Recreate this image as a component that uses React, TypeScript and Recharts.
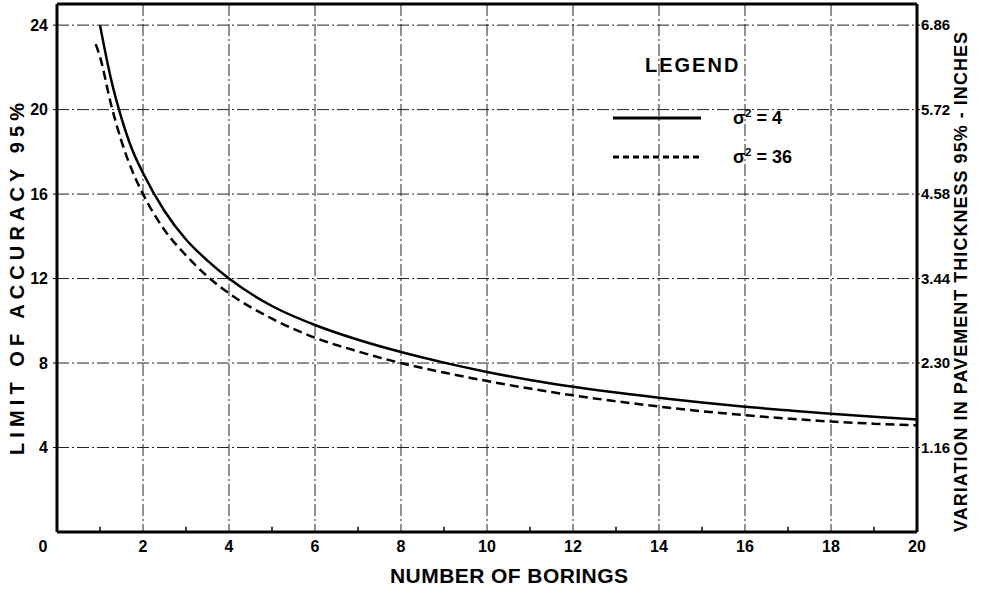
import React from "react";
import {
  LineChart,
  Line,
  XAxis,
  YAxis,
  CartesianGrid,
  ReferenceLine,
  Legend,
} from "recharts";

const FONT = '"Liberation Sans", Arial, sans-serif';

// number of borings (x) and the two curves
const borings = [0.9, 1, 1.25, 1.5, 1.75, 2, 2.5, 3, 3.5, 4, 5, 6, 7, 8, 9, 10, 11, 12, 13, 14, 15, 16, 17, 18, 19, 20];
const sigma4 = [null, 24.0, 21.5, 19.6, 18.1, 17.0, 15.2, 13.85, 12.85, 12.0, 10.7, 9.8, 9.1, 8.52, 8.02, 7.58, 7.2, 6.88, 6.6, 6.36, 6.13, 5.93, 5.76, 5.6, 5.46, 5.33];
const sigma36 = [23.1, 22.5, 20.3, 18.5, 17.1, 16.0, 14.3, 13.1, 12.1, 11.3, 10.1, 9.2, 8.55, 8.0, 7.55, 7.15, 6.79, 6.47, 6.19, 5.94, 5.72, 5.53, 5.37, 5.23, 5.13, 5.05];

const xTicks = [0, 2, 4, 6, 8, 10, 12, 14, 16, 18, 20];
const minorXTicks = [1, 3, 5, 7, 9, 11, 13, 15, 17, 19];
const leftTicks = [4, 8, 12, 16, 20, 24];
const rightTickLabels = ["1.16", "2.30", "3.44", "4.58", "5.72", "6.86"];
const legendLabels = ["4", "36"];

const data = borings.map((b, i) => ({ borings: b, s4: sigma4[i], s36: sigma36[i] }));

const XTick = ({ x, y, payload }: any) => (
  <text
    x={x}
    y={y}
    dx={payload.value === 0 ? -14 : 0}
    dy={20}
    textAnchor="middle"
    fontFamily={FONT}
    fontWeight={700}
    fontSize={16}
    fill="#000"
  >
    {payload.value}
  </text>
);

const LegendBox = ({ payload }: any) => {
  const items = (payload || []).filter((p: any) => p.type !== "none").slice(0, legendLabels.length);
  return (
    <div style={{ fontFamily: FONT, fontWeight: 700, color: "#000" }}>
      <div style={{ fontSize: 20, lineHeight: "30px", letterSpacing: 2, marginLeft: 32 }}>LEGEND</div>
      <div style={{ marginTop: 18 }}>
        {items.map((p: any, i: number) => (
          <div key={i} style={{ display: "flex", alignItems: "center", height: 39 }}>
            <svg width={88} height={6}>
              <line
                x1={0}
                y1={3}
                x2={88}
                y2={3}
                stroke="#000"
                strokeWidth={3}
                strokeDasharray={i === 1 ? "6 4" : undefined}
              />
            </svg>
            <span style={{ marginLeft: 32, fontSize: 18 }}>
              σ<sup style={{ fontSize: 11 }}>2</sup> = {legendLabels[i]}
            </span>
          </div>
        ))}
      </div>
    </div>
  );
};

const titleStyle = { fontFamily: FONT, fontWeight: 700, fill: "#000" };

export default function App() {
  return (
    <div style={{ position: "absolute", left: 0, top: 0, width: 984, height: 592, background: "#fff" }}>
      <LineChart width={984} height={592} data={data} margin={{ top: 4, right: 0, bottom: 0, left: 0 }}>
        <CartesianGrid yAxisId="left" stroke="#222" strokeWidth={1} strokeDasharray="12 3 2 3" />
        <XAxis
          type="number"
          dataKey="borings"
          domain={[0, 20]}
          ticks={xTicks}
          allowDataOverflow
          height={60}
          tickLine={false}
          tickSize={0}
          tickMargin={0}
          axisLine={{ stroke: "#000", strokeWidth: 3 }}
          tick={<XTick />}
          label={{
            content: () => (
              <text x={509} y={583} textAnchor="middle" fontSize={21} textLength={238} lengthAdjust="spacing" {...titleStyle}>
                NUMBER OF BORINGS
              </text>
            ),
          }}
        />
        <YAxis
          yAxisId="left"
          type="number"
          domain={[0, 25]}
          ticks={leftTicks}
          allowDataOverflow
          width={57}
          tickSize={4}
          tickMargin={5}
          tickLine={{ stroke: "#000" }}
          axisLine={{ stroke: "#000", strokeWidth: 3 }}
          tick={{ fill: "#000", fontSize: 16, fontWeight: 700, fontFamily: FONT }}
          label={{
            content: () => (
              <text
                x={16.5}
                y={279}
                transform="rotate(-90 16.5 279)"
                textAnchor="middle"
                dominantBaseline="central"
                fontSize={20}
                textLength={352}
                lengthAdjust="spacing"
                {...titleStyle}
              >
                LIMIT OF ACCURACY 95%
              </text>
            ),
          }}
        />
        <YAxis
          yAxisId="right"
          orientation="right"
          type="number"
          domain={[0, 25]}
          ticks={leftTicks}
          allowDataOverflow
          width={67}
          tickSize={3}
          tickMargin={1}
          tickLine={{ stroke: "#000" }}
          axisLine={{ stroke: "#000", strokeWidth: 3 }}
          tickFormatter={(v: number) => rightTickLabels[leftTicks.indexOf(Number(v))]}
          tick={{ fill: "#000", fontSize: 15, fontWeight: 700, fontFamily: FONT }}
          label={{
            content: () => (
              <text
                x={961}
                y={282}
                transform="rotate(-90 961 282)"
                textAnchor="middle"
                dominantBaseline="central"
                fontSize={18}
                textLength={500}
                lengthAdjust="spacing"
                {...titleStyle}
              >
                VARIATION IN PAVEMENT THICKNESS 95% - INCHES
              </text>
            ),
          }}
        />
        <ReferenceLine yAxisId="left" y={25} stroke="#000" strokeWidth={3} ifOverflow="visible" />
        {minorXTicks.map((t) => (
          <ReferenceLine
            key={t}
            yAxisId="left"
            segment={[{ x: t, y: 0 }, { x: t, y: 0.25 }]}
            stroke="#000"
            strokeWidth={1.5}
            ifOverflow="visible"
          />
        ))}
        <Legend
          layout="vertical"
          align="center"
          verticalAlign="middle"
          content={<LegendBox />}
          wrapperStyle={{ position: "absolute", left: 613, top: 50, width: 220 }}
        />
        <Line
          yAxisId="left"
          type="monotone"
          dataKey="s4"
          name="σ² = 4"
          stroke="#000"
          strokeWidth={2.5}
          dot={false}
          isAnimationActive={false}
        />
        <Line
          yAxisId="left"
          type="monotone"
          dataKey="s36"
          name="σ² = 36"
          stroke="#000"
          strokeWidth={2.5}
          strokeDasharray="9 5"
          dot={false}
          isAnimationActive={false}
        />
        {/* same curve on the inch scale, invisible, so the right axis has a series */}
        <Line
          yAxisId="right"
          type="monotone"
          dataKey="s4"
          stroke="none"
          legendType="none"
          dot={false}
          activeDot={false}
          isAnimationActive={false}
        />
      </LineChart>
    </div>
  );
}
